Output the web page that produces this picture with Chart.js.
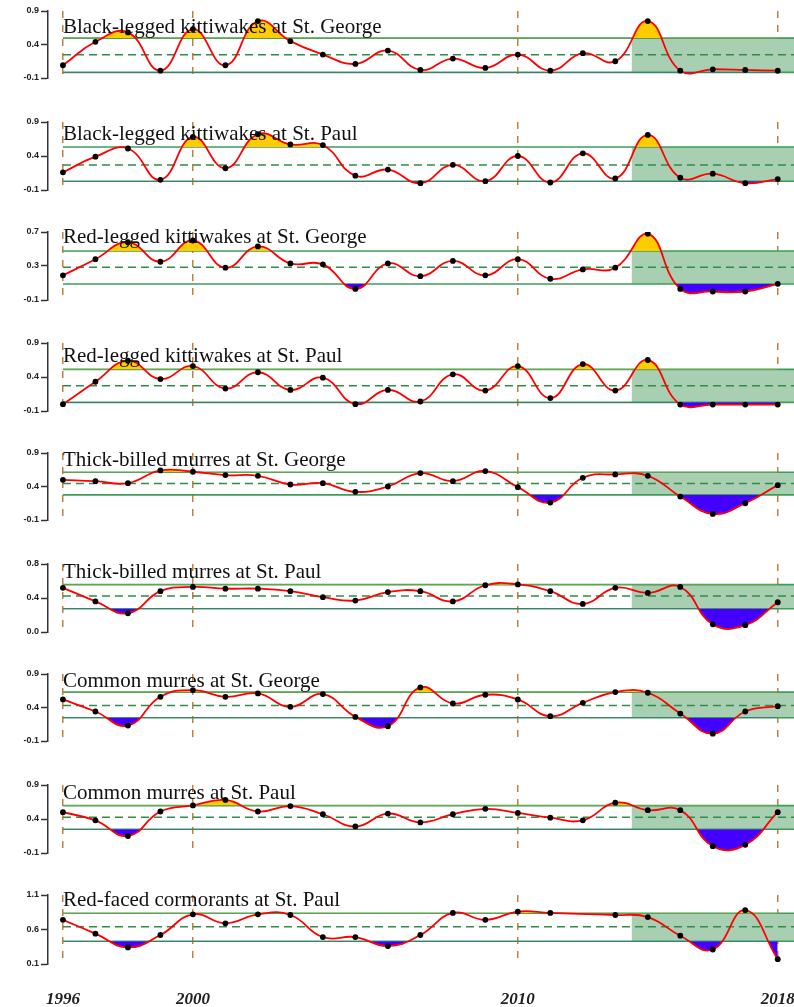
<!DOCTYPE html>
<html>
<head>
<meta charset="utf-8">
<script src="https://cdn.jsdelivr.net/npm/chart.js@4.4.1/dist/chart.umd.min.js"></script>
<style>
  html, body { margin: 0; padding: 0; background: #fff; }
  #wrap { position: relative; width: 794px; height: 1007px; overflow: hidden; }
  #wrap canvas { position: absolute; left: 0; }
</style>
</head>
<body>
<div id="wrap"></div>
<script>
/* Seabird productivity panels, 1996–2018 */
const years = [1996, 1997, 1998, 1999, 2000, 2001, 2002, 2003, 2004, 2005, 2006, 2007,
  2008, 2009, 2010, 2011, 2012, 2013, 2014, 2015, 2016, 2017, 2018];
const vLines = [1996, 2000, 2010, 2018];

const titles = [
  "Black-legged kittiwakes at St. George",
  "Black-legged kittiwakes at St. Paul",
  "Red-legged kittiwakes at St. George",
  "Red-legged kittiwakes at St. Paul",
  "Thick-billed murres at St. George",
  "Thick-billed murres at St. Paul",
  "Common murres at St. George",
  "Common murres at St. Paul",
  "Red-faced cormorants at St. Paul",
];

const blkiSG = [0.09, 0.44, 0.58, 0.01, 0.63, 0.09, 0.75, 0.45, 0.25, 0.11, 0.31, 0.02, 0.19, 0.05, 0.25, 0.01, 0.27, 0.15, 0.75, 0.01, 0.03, 0.02, 0.01];
const blkiSP = [0.16, 0.39, 0.51, 0.05, 0.68, 0.22, 0.72, 0.57, 0.56, 0.11, 0.20, 0.00, 0.27, 0.03, 0.40, 0.01, 0.44, 0.07, 0.71, 0.08, 0.14, 0.00, 0.06];
const rlkiSG = [0.19, 0.38, 0.58, 0.35, 0.60, 0.28, 0.53, 0.33, 0.32, 0.03, 0.33, 0.18, 0.36, 0.19, 0.38, 0.15, 0.26, 0.28, 0.68, 0.03, 0.00, 0.00, 0.09];
const rlkiSP = [0.00, 0.33, 0.64, 0.37, 0.56, 0.23, 0.47, 0.21, 0.39, 0.00, 0.21, 0.04, 0.44, 0.20, 0.56, 0.09, 0.59, 0.20, 0.65, -0.005, -0.005, -0.005, -0.005];
const tbmuSG = [0.50, 0.48, 0.45, 0.64, 0.62, 0.57, 0.56, 0.43, 0.45, 0.32, 0.40, 0.60, 0.48, 0.63, 0.39, 0.16, 0.53, 0.58, 0.56, 0.25, -0.01, 0.15, 0.42];
const tbmuSP = [0.52, 0.36, 0.22, 0.48, 0.53, 0.51, 0.51, 0.48, 0.41, 0.37, 0.47, 0.48, 0.36, 0.55, 0.56, 0.48, 0.33, 0.52, 0.46, 0.53, 0.09, 0.08, 0.35];
const comuSG = [0.52, 0.34, 0.13, 0.56, 0.66, 0.56, 0.61, 0.41, 0.60, 0.26, 0.12, 0.70, 0.46, 0.59, 0.52, 0.27, 0.47, 0.63, 0.62, 0.31, 0.01, 0.34, 0.42];
const comuSP = [0.50, 0.38, 0.15, 0.51, 0.60, 0.68, 0.51, 0.59, 0.47, 0.29, 0.48, 0.35, 0.47, 0.55, 0.49, 0.42, 0.38, 0.64, 0.53, 0.53, 0.00, 0.02, 0.50];
const rfcoSP = [0.74, 0.54, 0.34, 0.52, 0.82, 0.69, 0.82, 0.81, 0.49, 0.49, 0.36, 0.52, 0.84, 0.74, 0.86, 0.84, null, 0.81, 0.78, 0.51, 0.31, 0.88, 0.17];
const series = [blkiSG, blkiSP, rlkiSG, rlkiSP, tbmuSG, tbmuSP, comuSG, comuSP, rfcoSP];

// long-term mean and +/- 1 SD band per panel
const upper = [0.495, 0.532, 0.476, 0.512, 0.612, 0.557, 0.629, 0.597, 0.835];
const mean  = [0.247, 0.268, 0.285, 0.272, 0.445, 0.424, 0.430, 0.425, 0.639];
const lower = [-0.016, 0.028, 0.089, 0.027, 0.275, 0.273, 0.247, 0.249, 0.430];

const yTicks = [
  [-0.1, 0.4, 0.9], [-0.1, 0.4, 0.9], [-0.1, 0.3, 0.7], [-0.1, 0.4, 0.9], [-0.1, 0.4, 0.9],
  [0.0, 0.4, 0.8], [-0.1, 0.4, 0.9], [-0.1, 0.4, 0.9], [0.1, 0.6, 1.1],
];
const recentFrom = 2013.5, xEnd = 2018.5, xStart = 1995.54;

// layout (pixels)
const plotTop = (i) => 11 + i * 110.5;
const plotH = [67, 68, 68, 68, 67, 68, 67, 68, 69];
const titleDy = [22, 18, 11, 19, 13, 14, 13, 14, 11];
const PAD_T = 18, PAD_B = 8, LABEL_H = 44;

const C = { red: "#ff0000", green: "#3d9c58", dgreen: "#2f8c4a", shade: "#a8cfb1", gold: "#ffcc00", blue: "#4400ff", brown: "#c0803e", none: "rgba(0,0,0,0)" };

const wrap = document.getElementById("wrap");

series.forEach((vals, i) => {
  const last = i === series.length - 1;
  const h = plotH[i] + PAD_T + (last ? LABEL_H : PAD_B);
  const cv = document.createElement("canvas");
  cv.width = 794; cv.height = h;
  cv.style.top = (plotTop(i) - PAD_T) + "px";
  cv.style.width = "794px"; cv.style.height = h + "px";
  wrap.appendChild(cv);

  const pts = years.map((yr, k) => ({ x: yr, y: vals[k] }));
  const hline = (v) => [{ x: 1996, y: v }, { x: xEnd, y: v }];
  const curve = { data: pts, pointRadius: 0, tension: 0.45, spanGaps: true };

  const titlePlugin = {
    id: "panelTitle",
    afterDraw(chart) {
      const ctx = chart.ctx;
      ctx.save();
      ctx.font = '21px "Liberation Serif", "Times New Roman", serif';
      ctx.fillStyle = "#111";
      ctx.textBaseline = "alphabetic";
      ctx.fillText(titles[i], 63, chart.chartArea.top + titleDy[i]);
      ctx.restore();
    },
  };

  new Chart(cv, {
    type: "line",
    data: {
      datasets: [
        { data: pts, showLine: false, pointRadius: 2.9, pointBackgroundColor: "#000", pointBorderWidth: 0 },
        { ...curve, borderColor: C.red, borderWidth: 1.8, fill: false },
        { ...curve, borderColor: C.none, borderWidth: 0, fill: { target: { value: upper[i] }, above: C.gold, below: C.none } },
        { ...curve, borderColor: C.none, borderWidth: 0, fill: { target: { value: lower[i] }, above: C.none, below: C.blue } },
        { data: hline(upper[i]), borderColor: C.green, borderWidth: 1.6, pointRadius: 0 },
        { data: hline(mean[i]), borderColor: C.dgreen, borderWidth: 1.6, borderDash: [8, 5], pointRadius: 0 },
        { data: hline(lower[i]), borderColor: C.green, borderWidth: 1.6, pointRadius: 0 },
        { data: [{ x: recentFrom, y: upper[i] }, { x: xEnd, y: upper[i] }], borderColor: C.none, borderWidth: 0, pointRadius: 0,
          fill: { target: { value: lower[i] }, above: C.shade, below: C.shade } },
      ],
    },
    options: {
      responsive: false,
      animation: false,
      events: [],
      layout: { autoPadding: false, padding: { top: PAD_T, bottom: last ? 0 : PAD_B, left: 0, right: 0 } },
      plugins: { legend: { display: false }, tooltip: { enabled: false } },
      scales: {
        x: {
          type: "linear", min: xStart, max: xEnd,
          afterBuildTicks: (s) => { s.ticks = vLines.map((v) => ({ value: v })); },
          afterFit: (s) => { s.paddingLeft = 0; s.paddingRight = 0; s.height = last ? LABEL_H : 0; },
          ticks: { display: last, autoSkip: false, maxRotation: 0, padding: 25, color: "#222",
            font: { family: '"Liberation Serif", serif', size: 17, style: "italic", weight: "bold" },
            callback: (v) => String(v) },
          grid: { drawOnChartArea: true, drawTicks: false, color: C.brown, lineWidth: 1.5 },
          border: { display: false, dash: [7, 7] },
        },
        y: {
          min: yTicks[i][0], max: yTicks[i][2],
          afterBuildTicks: (s) => { s.ticks = yTicks[i].map((v) => ({ value: v })); },
          afterFit: (s) => { s.width = 48; },
          ticks: { padding: 2, color: "#222", font: { family: '"Liberation Sans", sans-serif', size: 9, weight: "bold" },
            callback: (v) => Number(v).toFixed(1) },
          grid: { drawOnChartArea: false, drawTicks: true, tickLength: 7, tickColor: "#333", tickWidth: 1.5 },
          border: { display: true, color: "#333", width: 1.5 },
        },
      },
    },
    plugins: [titlePlugin],
  });
});
</script>
</body>
</html>
